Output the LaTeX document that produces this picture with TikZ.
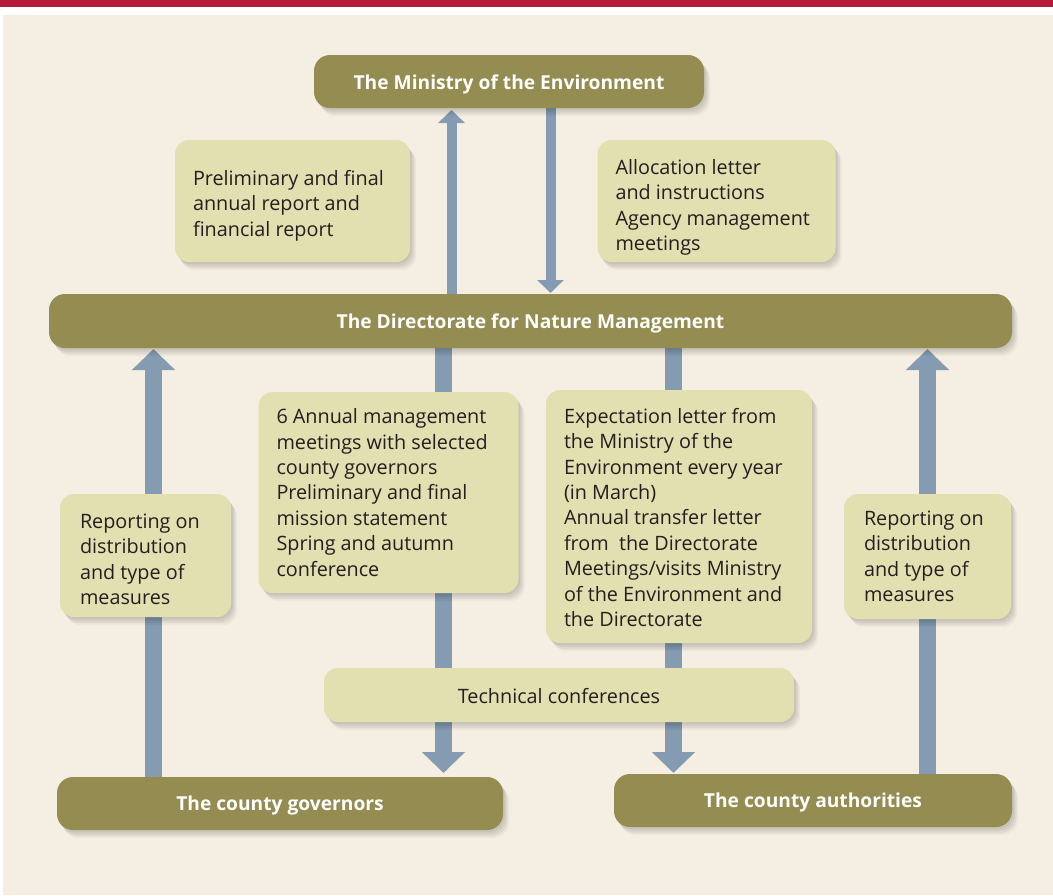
\documentclass[tikz,border=0pt]{standalone}
\usepackage{fontspec}
\setmainfont{Open Sans}
\usetikzlibrary{arrows.meta}
\definecolor{olive}{RGB}{148,140,80}
\definecolor{boxfill}{RGB}{226,223,176}
\definecolor{arrowc}{RGB}{132,155,178}
\definecolor{beige}{RGB}{245,239,227}
\definecolor{redband}{RGB}{181,26,58}
\definecolor{txt}{RGB}{35,31,32}
\pgfdeclarelayer{back}
\pgfdeclarelayer{arrows}
\pgfsetlayers{back,arrows,main}
\newcommand\boxtxt[3]{\raisebox{#1}[\height][\depth]{\parbox{#2}{\raggedright #3}}}
\newcommand\olab[1]{\raisebox{-2.5pt}[\height][\depth]{#1}}
\tikzset{
  softshadow/.style={
    preaction={fill=black, opacity=0.05, transform canvas={shift={(1.5pt,-2pt)}}},
    preaction={fill=black, opacity=0.05, transform canvas={shift={(3pt,-4pt)}}},
    preaction={fill=black, opacity=0.05, transform canvas={shift={(4.5pt,-6pt)}}},
    preaction={fill=black, opacity=0.04, transform canvas={shift={(6pt,-8pt)}}}},
  lbox/.style={fill=boxfill, rounded corners=14pt, outer sep=0pt, inner sep=0pt,
    text=txt, font=\fontsize{19.8}{25.4}\selectfont, softshadow},
  obox/.style={fill=olive, rounded corners=16pt, outer sep=0pt, inner sep=0pt,
    text=white, font=\fontsize{19.2}{22}\selectfont\bfseries, softshadow},
  arrS/.style={draw=arrowc, line width=10pt, -{Triangle[width=26pt,length=13pt]}},
  arrB/.style={draw=arrowc, line width=17pt, -{Triangle[width=42pt,length=21pt]}}
}
\begin{document}
\begin{tikzpicture}[x=1pt,y=-1pt]
\useasboundingbox (0,0) rectangle (1053,895);
\begin{pgfonlayer}{back}
\fill[white] (0,0) rectangle (1053,895);
\fill[redband] (0,0) rectangle (1053,7);
\fill[beige] (3,15) rectangle (1053,895);
\end{pgfonlayer}
% olive boxes
\node[obox, minimum width=390, minimum height=53] (min) at (509,81.5) {\olab{The Ministry of the Environment}};
\node[obox, minimum width=963, minimum height=54] (dir) at (530.5,321) {\olab{The Directorate for Nature Management}};
\node[obox, minimum width=446, minimum height=53] (gov) at (280,803.5) {\olab{The county governors}};
\node[obox, minimum width=398, minimum height=53] (auth) at (813,800.5) {\olab{The county authorities}};
% light boxes
\node[lbox, minimum width=235, minimum height=122] (prel) at (292.5,201)
  {\boxtxt{-4.5pt}{199pt}{Preliminary and final\\annual report and\\financial report}};
\node[lbox, minimum width=238, minimum height=122] (alloc) at (716.5,201)
  {\boxtxt{-6.5pt}{202pt}{Allocation letter\\and instructions\\Agency management\\meetings}};
\node[lbox, minimum width=171, minimum height=123] (repL) at (145.5,555.5)
  {\boxtxt{-4pt}{131pt}{Reporting on\\distribution\\and type of\\measures}};
\node[lbox, minimum width=260, minimum height=201] (meetL) at (388.5,492.5)
  {\boxtxt{0pt}{224pt}{6 Annual management\\meetings with selected\\county governors\\Preliminary and final\\mission statement\\Spring and autumn\\conference}};
\node[lbox, minimum width=266, minimum height=253] (expR) at (679,516.5)
  {\boxtxt{-1pt}{230pt}{Expectation letter from\\the Ministry of the\\Environment every year\\(in March)\\Annual transfer letter\\from\ \ the Directorate\\Meetings/visits Ministry\\of the Environment and\\the Directorate}};
\node[lbox, minimum width=167, minimum height=125] (repR) at (927.5,556.5)
  {\boxtxt{0pt}{127pt}{Reporting on\\distribution\\and type of\\measures}};
\node[lbox, minimum width=470, minimum height=54] (tech) at (559,695)
  {\raisebox{-1pt}[\height][\depth]{Technical conferences}};
% connectors
\coordinate (xa) at (451.5,0);
\coordinate (xb) at (550.5,0);
\coordinate (xc) at (443.5,0);
\coordinate (xd) at (673.5,0);
\coordinate (xL) at (153.5,0);
\coordinate (xR) at (927.5,0);
\begin{pgfonlayer}{arrows}
\draw[arrS, shorten >=2pt] (dir.north -| xa) -- (min.south -| xa);
\draw[arrS, shorten >=1pt] (min.south -| xb) -- (dir.north -| xb);
\draw[arrB, shorten >=4pt] (dir.south -| xc) -- (gov.north -| xc);
\draw[arrB, shorten >=1pt] (dir.south -| xd) -- (auth.north -| xd);
\draw[arrB, shorten >=1pt] (gov.north -| xL) -- (dir.south -| xL);
\draw[arrB, shorten >=1pt] (auth.north -| xR) -- (dir.south -| xR);
\end{pgfonlayer}
\end{tikzpicture}
\end{document}
